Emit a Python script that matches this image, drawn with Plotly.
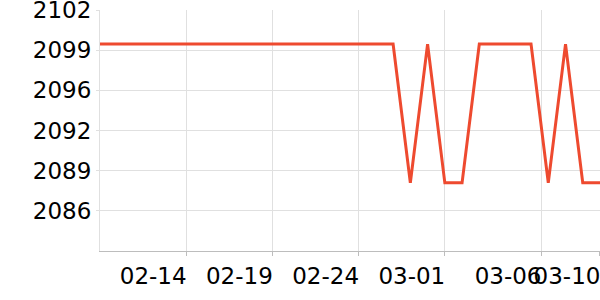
import plotly.graph_objects as go

dates = ["2025-02-%02d" % d for d in range(9, 29)] + ["2025-03-%02d" % d for d in range(1, 11)]
values = [2099.5] * 18 + [2088.1, 2099.5, 2088.1, 2088.1, 2099.5, 2099.5, 2099.5, 2099.5,
                          2088.1, 2099.5, 2088.1, 2088.1]

x_tick_values = ["2025-02-14", "2025-02-19", "2025-02-24", "2025-03-01", "2025-03-06 14:00", "2025-03-09 23:59"]
x_tick_labels = ["02-14", "02-19", "02-24", "03-01", "03-06", "03-10"]
y_tick_values = [2085.8, 2089.1, 2092.4, 2095.7, 2099.0, 2102.29]
y_tick_labels = ["2086", "2089", "2092", "2096", "2099", "2102"]
y_range = [2082.5, 2102.3]

fig = go.Figure(go.Scatter(x=dates, y=values, mode="lines",
                           line=dict(color="#ee4a2f", width=3)))

fig.update_layout(
    width=600, height=300,
    margin=dict(l=100, r=0, t=10, b=49),
    paper_bgcolor="white", plot_bgcolor="white",
    showlegend=False,
    font=dict(family="DejaVu Sans", size=23, color="#000"),
)
fig.update_xaxes(
    type="date", range=[dates[0], dates[-1]],
    tickvals=x_tick_values, ticktext=x_tick_labels,
    ticklabelshift=-33, ticklabeloverflow="allow",
    tickangle=0, automargin=False,
    showgrid=True, gridcolor="#e0e0e0", gridwidth=1,
    showline=True, linecolor="#bdbdbd", linewidth=1,
    ticks="outside", ticklen=4, tickcolor="#bdbdbd",
    zeroline=False,
)
fig.update_yaxes(
    range=y_range,
    tickvals=y_tick_values, ticktext=y_tick_labels,
    ticklabeloverflow="allow", automargin=False,
    showgrid=True, gridcolor="#e0e0e0", gridwidth=1,
    showline=True, linecolor="#e0e0e0", linewidth=1,
    ticks="outside", ticklen=3, tickcolor="#e0e0e0",
    zeroline=False,
)
fig.write_html("out.html")
